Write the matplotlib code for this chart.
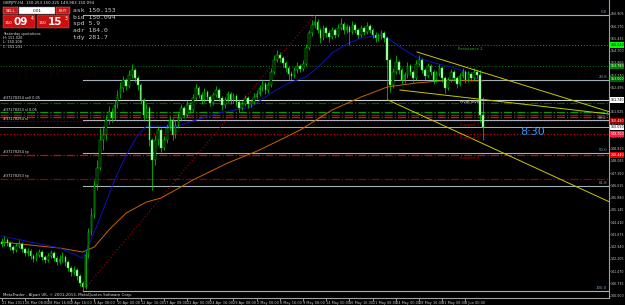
import matplotlib
matplotlib.use("Agg")
import matplotlib.pyplot as plt
import matplotlib.transforms as mtransforms
from matplotlib.patches import Rectangle

# GBPJPY H4 candles
first_open = 143.22
closes = [
    143.10, 143.34, 143.16, 142.92, 142.74, 142.98, 143.10, 142.80, 142.56, 142.68,
    142.38, 142.20, 142.44, 142.62, 142.32, 142.14, 142.38, 142.56, 142.26, 142.02,
    142.20, 142.32, 142.02, 141.66, 141.42, 141.54, 141.18, 140.76, 140.52, 142.44,
    143.82, 144.84, 146.64, 147.66, 149.34, 149.64, 150.54, 151.02, 150.66, 151.44,
    152.04, 152.46, 152.94, 152.58, 153.24, 153.54, 153.06, 152.64, 151.74, 150.84,
    151.26, 149.34, 148.14, 149.34, 149.94, 148.86, 149.34, 150.06, 150.54, 149.64,
    150.24, 150.66, 151.26, 150.84, 151.44, 151.14, 151.86, 152.46, 152.04, 151.74,
    152.22, 151.92, 151.56, 152.04, 152.34, 151.86, 151.44, 151.74, 152.10, 151.74,
    151.98, 151.62, 151.26, 151.50, 151.86, 151.50, 151.62, 151.92, 152.10, 152.46,
    152.70, 152.34, 152.64, 153.42, 154.14, 154.44, 154.26, 153.96, 153.66, 153.30,
    153.18, 153.54, 153.78, 153.60, 153.90, 154.86, 155.76, 156.24, 156.42, 155.94,
    155.46, 156.06, 155.76, 155.52, 155.94, 155.64, 156.06, 156.30, 155.94, 156.12,
    155.82, 156.24, 155.94, 155.64, 156.06, 155.82, 156.18, 155.94, 155.64, 155.46,
    155.58, 155.76, 155.46, 154.14, 152.64, 153.42, 154.02, 153.54, 152.94, 153.24,
    153.78, 153.42, 153.06, 153.90, 154.14, 153.54, 153.18, 153.78, 153.42, 152.94,
    153.30, 153.66, 153.06, 152.46, 152.94, 153.42, 153.06, 152.70, 153.18, 153.42,
    152.94, 153.30, 153.06, 153.42, 153.24, 150.84, 150.09,
]
highs = [
    143.46, 143.58, 143.46, 143.28, 143.04, 143.16, 143.34, 143.22, 142.92, 142.86,
    142.80, 142.50, 142.62, 142.80, 142.74, 142.44, 142.56, 142.74, 142.68, 142.38,
    142.44, 142.62, 142.44, 142.14, 141.78, 141.78, 141.66, 141.30, 140.88, 142.74,
    144.06, 145.26, 146.94, 148.14, 150.06, 150.18, 150.84, 151.38, 151.26, 151.74,
    152.34, 152.82, 153.18, 153.06, 153.54, 153.90, 153.66, 153.18, 152.76, 151.86,
    151.50, 151.38, 149.46, 149.64, 150.18, 150.06, 149.58, 150.30, 150.78, 150.66,
    150.54, 150.96, 151.50, 151.38, 151.74, 151.62, 152.10, 152.70, 152.58, 152.22,
    152.46, 152.34, 152.04, 152.22, 152.58, 152.46, 151.98, 151.92, 152.28, 152.22,
    152.16, 152.10, 151.74, 151.68, 152.04, 151.98, 151.80, 152.16, 152.34, 152.64,
    152.94, 152.82, 152.82, 153.66, 154.44, 154.74, 154.62, 154.38, 154.08, 153.78,
    153.48, 153.72, 154.02, 153.90, 154.14, 155.10, 155.94, 156.54, 156.84, 156.60,
    156.06, 156.24, 156.18, 155.94, 156.12, 156.06, 156.30, 156.66, 156.42, 156.30,
    156.24, 156.48, 156.36, 156.06, 156.24, 156.18, 156.42, 156.30, 156.06, 155.82,
    155.76, 155.94, 155.88, 155.58, 154.26, 153.66, 154.44, 154.14, 153.66, 153.42,
    154.02, 153.90, 153.54, 154.14, 154.44, 154.26, 153.66, 153.96, 153.90, 153.54,
    153.48, 153.90, 153.78, 153.18, 153.12, 153.60, 153.54, 153.18, 153.36, 153.66,
    153.54, 153.48, 153.42, 153.66, 153.54, 153.54, 151.92,
]
lows = [
    142.92, 142.98, 142.98, 142.74, 142.56, 142.62, 142.86, 142.62, 142.38, 142.38,
    142.20, 142.02, 142.08, 142.32, 142.14, 141.96, 142.02, 142.26, 142.08, 141.84,
    141.90, 142.02, 141.78, 141.48, 141.18, 141.24, 140.94, 140.58, 140.28, 140.40,
    142.26, 143.64, 144.66, 146.34, 147.54, 148.74, 149.34, 150.30, 150.42, 150.54,
    151.26, 151.86, 152.22, 152.34, 152.46, 153.06, 152.82, 152.34, 151.50, 150.54,
    150.66, 148.98, 146.34, 147.84, 149.04, 148.62, 148.74, 149.16, 149.94, 149.34,
    149.46, 150.06, 150.54, 150.66, 150.72, 150.96, 151.02, 151.74, 151.86, 151.50,
    151.62, 151.74, 151.38, 151.44, 151.92, 151.68, 151.14, 151.26, 151.62, 151.50,
    151.56, 151.38, 151.02, 151.14, 151.38, 151.26, 151.32, 151.50, 151.80, 151.98,
    152.28, 152.10, 152.16, 152.52, 153.30, 154.02, 154.02, 153.72, 153.42, 152.94,
    152.94, 153.06, 153.36, 153.42, 153.48, 153.78, 154.74, 155.58, 156.06, 155.76,
    155.16, 155.34, 155.52, 155.22, 155.40, 155.46, 155.52, 155.94, 155.70, 155.76,
    155.04, 155.70, 155.76, 155.46, 155.52, 155.64, 155.70, 155.76, 155.46, 155.22,
    155.28, 155.40, 155.22, 151.74, 152.22, 152.46, 153.30, 153.30, 152.70, 152.76,
    153.06, 153.24, 152.82, 152.94, 153.78, 153.36, 152.94, 153.06, 153.24, 152.70,
    152.82, 153.18, 152.82, 152.16, 152.34, 152.82, 152.88, 152.46, 152.58, 153.06,
    152.76, 152.82, 152.88, 152.94, 153.06, 150.42, 149.34,
]

# moving averages (bar index, value)
blue_ma_bar = [0, 10, 20, 28, 32, 35, 39, 43, 47, 50, 55, 60, 66, 75, 86, 93, 99,
               105, 110, 114, 119, 124, 132, 134, 139, 143, 148, 155, 160, 166]
blue_ma = [143.58, 143.22, 142.86, 142.26, 143.82, 145.14, 146.94, 148.44, 149.64,
           150.18, 150.18, 150.12, 150.48, 150.96, 151.32, 152.16, 152.76, 153.12,
           153.84, 154.56, 155.10, 155.46, 155.64, 155.34, 154.74, 154.32, 154.02,
           153.72, 153.42, 152.82]
orange_ma_bar = [0, 13, 20, 28, 32, 37, 43, 50, 55, 60, 66, 78, 89, 103, 114, 124,
                 133, 143, 155, 166]
orange_ma = [143.22, 142.98, 142.86, 142.62, 142.92, 143.94, 144.96, 145.62, 145.86,
             146.34, 146.94, 147.96, 148.74, 149.94, 151.14, 151.92, 152.52, 152.76,
             152.94, 152.88]

# fibonacci retracement
fib_low_bar, fib_low = 28, 140.28
fib_high_bar, fib_high = 108, 156.84
fib_levels = [0.0, 23.6, 38.2, 50.0, 61.8, 100.0]

# pivots / order levels
resistance2 = 155.04
resistance1 = 153.78
pivot = 151.74
support1 = 150.48
support2 = 149.70
support3 = 148.44
order_open = [151.56, 151.02]
order_sl = [150.84, 150.72]
order_tp = [147.00]
bid = 150.09

# trend lines: start bar, start price, end bar, end price
trend_x0 = [143.3, 137.4, 133.3]
trend_y0 = [154.62, 152.34, 151.74]
trend_x1 = [209.5, 209.5, 209.5]
trend_y1 = [151.04, 150.90, 145.64]

date_ticks = list(range(0, 161, 8))
date_labels = ["21 Mar 2013", "26 Mar 08:00", "28 Mar 16:00", "2 Apr 16:00",
               "5 Apr 08:00", "10 Apr 00:00", "12 Apr 16:00", "17 Apr 08:00",
               "22 Apr 00:00", "24 Apr 16:00", "29 Apr 08:00", "2 May 00:00",
               "6 May 16:00", "9 May 08:00", "14 May 00:00", "16 May 16:00",
               "21 May 08:00", "24 May 00:00", "28 May 16:00", "31 May 08:00",
               "3 Jun 00:00"]
price_ticks = [140.000, 140.735, 141.470, 142.205, 142.940, 143.675, 144.410,
               145.145, 145.880, 146.615, 147.350, 148.085, 148.820, 149.555,
               150.290, 151.025, 151.760, 152.495, 153.230, 153.965, 154.700,
               155.435, 156.170, 156.905]

W, H = 625, 305
fig = plt.figure(figsize=(W / 100, H / 100), dpi=100, facecolor="black")
ax = fig.add_axes([0, 7 / H, 609 / W, 298 / H], facecolor="black")
ax.set_xlim(-0.52, 209.5)
ax.set_ylim(139.86, 157.74)

for s in ["top", "left"]:
    ax.spines[s].set_visible(False)
for s in ["right", "bottom"]:
    ax.spines[s].set_color("#a0a0a0")
    ax.spines[s].set_linewidth(0.8)

ax.yaxis.tick_right()
ax.set_yticks(price_ticks)
ax.set_yticklabels(["%.3f" % p for p in price_ticks])
ax.tick_params(axis="y", colors="#c8c8c8", labelsize=2.3, length=1, width=0.5, pad=0.4)
ax.set_xticks(date_ticks)
ax.set_xticklabels(date_labels)
ax.tick_params(axis="x", colors="#c8c8c8", labelsize=2.5, length=2, width=0.5, pad=0.3)
for lbl in ax.get_xticklabels():
    lbl.set_ha("left")

full = mtransforms.blended_transform_factory(ax.transAxes, ax.transData)

# level lines
ax.axhline(resistance2, color="#00b000", lw=0.7, ls=(0, (1, 2)), zorder=1)
ax.axhline(resistance1, color="#008000", lw=0.7, ls=(0, (1, 2)), zorder=1)
ax.axhline(pivot, color="#d0d0d0", lw=0.8, zorder=1)
ax.axhline(order_open[0], color="#006000", lw=0.9, ls="-.", zorder=1)
ax.axhline(order_open[1], color="#00a000", lw=0.9, ls="-.", zorder=1)
ax.axhline(order_sl[0], color="#c00000", lw=0.9, ls="-.", zorder=1)
ax.axhline(order_sl[1], color="#ff0000", lw=0.9, ls="-.", zorder=1)
ax.axhline(support1, color="#900000", lw=0.8, ls=(0, (1, 2)), zorder=1)
ax.axhline(bid, color="#b0b0b0", lw=0.7, zorder=1)
ax.axhline(support2, color="#e00000", lw=0.8, ls=(0, (1, 2)), zorder=1)
ax.axhline(support3, color="#e00000", lw=0.9, ls="-.", zorder=1)
ax.axhline(order_tp[0], color="#900000", lw=0.9, ls="-.", zorder=1)

# fibonacci
fib_range = fib_high - fib_low
for lv in fib_levels:
    p = fib_high - lv / 100.0 * fib_range
    ax.plot([fib_low_bar, 209.5], [p, p], color="#a8b0b8", lw=0.8, zorder=1)
    ax.text(208.8, p + 0.05, "%.1f" % lv, color="#7f9fbf", fontsize=2.8,
            ha="right", va="bottom")
ax.plot([fib_low_bar, fib_high_bar], [fib_low, fib_high], color="#a00000",
        lw=0.8, ls=(0, (1, 2)), zorder=1)

# moving averages
ax.plot(orange_ma_bar, orange_ma, color="#c86400", lw=0.7, zorder=2)
ax.plot(blue_ma_bar, blue_ma, color="#1010c0", lw=0.7, zorder=2)

# candles
opens = [first_open] + closes[:-1]
xs = list(range(len(closes)))
ax.vlines(xs, lows, highs, color="#00e000", lw=0.5, zorder=3)
for i in xs:
    o, c = opens[i], closes[i]
    bottom = min(o, c)
    h = max(abs(c - o), 0.02)
    face = "black" if c >= o else "#d8ffd8"
    ax.bar(i, h, bottom=bottom, width=0.55, facecolor=face, edgecolor="#00e000",
           lw=0.35, zorder=4)

# trend lines
for k in range(len(trend_x0)):
    ax.plot([trend_x0[k], trend_x1[k]], [trend_y0[k], trend_y1[k]],
            color="#c8c800", lw=0.7, zorder=5)

# level captions
ax.text(157.4, resistance2 - 0.1, "Resistance 2", color="#20b020", fontsize=2.8, va="top")
ax.text(158.0, pivot - 0.03, "Pivot level", color="#e0e0e0", fontsize=2.8, va="top", zorder=6)
ax.text(158.0, support1 - 0.1, "Support 1", color="#c00000", fontsize=2.8, va="top", zorder=6)
ax.text(158.0, support2 - 0.1, "Support 2", color="#c00000", fontsize=2.8, va="top", zorder=6)
ax.text(158.0, support3 - 0.08, "Support 3", color="#c00000", fontsize=2.8, va="top", zorder=6)

ax.text(0.5, pivot + 0.02, "#37278254 sell 0.05", color="#e0e0e0", fontsize=2.5, va="bottom")
ax.text(0.5, order_open[1] + 0.02, "#37278253 sl 0.05", color="#e0e0e0", fontsize=2.5, va="bottom")
ax.text(0.5, order_sl[1] - 0.02, "#37278254 sl", color="#e0e0e0", fontsize=2.5, va="top")
ax.text(0.5, support3 + 0.04, "#37278254 tp", color="#e0e0e0", fontsize=2.5, va="bottom")
ax.text(0.5, order_tp[0] + 0.04, "#37278253 tp", color="#e0e0e0", fontsize=2.5, va="bottom")

ax.text(183.3, 149.8, "8:30", color="#3399ff", fontsize=8, ha="center", va="center")

# price boxes on the scale
boxes = [(resistance2, "#00ff00", "black"), (resistance1, "#008000", "white"),
         (153.00, "#006400", "white"), (pivot, "white", "black"),
         (support1, "#a00000", "white"), (bid, "white", "black"),
         (support2, "#ff2040", "white"), (support3, "#e00000", "white")]
for p, fc, tc in boxes:
    ax.text(1.002, p, "%.3f" % p, transform=full, fontsize=2.3, color=tc,
            va="center", ha="left", clip_on=False, zorder=8,
            bbox=dict(facecolor=fc, edgecolor="none", pad=0.4))

# overlay in pixel space for the trade panel
ov = fig.add_axes([0, 0, 1, 1], zorder=10)
ov.set_xlim(0, W)
ov.set_ylim(H, 0)
ov.axis("off")
ov.patch.set_alpha(0)

ov.text(3, 3, "GBPJPY,H4  150.253 150.325 149.983 150.094", color="#e0e0e0",
        fontsize=2.8, va="center")
ov.add_patch(Rectangle((3, 7), 15, 7, facecolor="#c81818", edgecolor="#ff8080", lw=0.3))
ov.text(10.5, 10.5, "SELL", color="white", fontsize=3.0, ha="center", va="center")
ov.add_patch(Rectangle((19, 7), 36, 7, facecolor="white", edgecolor="#808080", lw=0.3))
ov.text(37, 10.5, "0.01", color="black", fontsize=3.0, ha="center", va="center")
ov.add_patch(Rectangle((56, 7), 14, 7, facecolor="#c81818", edgecolor="#ff8080", lw=0.3))
ov.text(63, 10.5, "BUY", color="white", fontsize=3.0, ha="center", va="center")
for x0, big, sup in [(3, "09", "4"), (37, "15", "3")]:
    ov.add_patch(Rectangle((x0, 15), 32, 13, facecolor="#cc1010", edgecolor="#ff6060", lw=0.3))
    ov.text(x0 + 2, 23.5, "150", color="white", fontsize=3.0, va="center")
    ov.text(x0 + 11, 22, big, color="white", fontsize=7.5, fontweight="bold", va="center")
    ov.text(x0 + 27.5, 18.5, sup, color="white", fontsize=3.4, va="center")

info = ["ask 150.153", "bid 150.094", "spd 5.9", "adr 184.0", "tdy 281.7"]
for k, t in enumerate(info):
    ov.text(73, 11 + k * 6.5, t, color="#c8c8c8", fontsize=4.6,
            family="DejaVu Sans Mono", va="center")

quot = ["Yesterday quotations", "H: 151.026", "L: 150.108", "C: 151.231"]
for k, t in enumerate(quot):
    ov.text(3, 34 + k * 4.2, t, color="#e0e0e0", fontsize=2.5, va="center")

ov.text(3, 295, "MetaTrader - Alpari UK, \u00a9 2001-2013, MetaQuotes Software Corp.",
        color="#e0e0e0", fontsize=2.8, va="center")

fig.savefig("out.png", dpi=100, facecolor="black")
